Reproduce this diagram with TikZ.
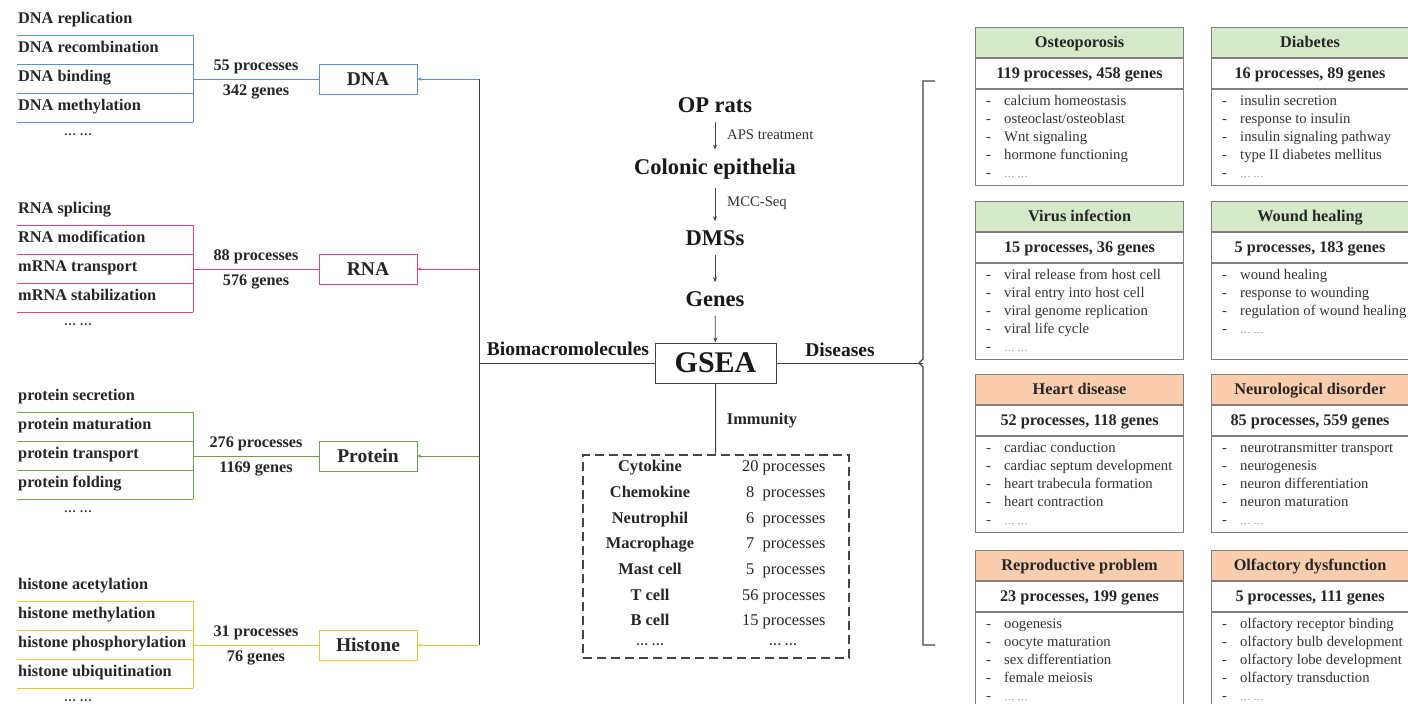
\documentclass[tikz,border=0pt]{standalone}
\usepackage{fontspec}
\setmainfont{Liberation Serif}
\usetikzlibrary{arrows.meta,calc}
\definecolor{cdna}{HTML}{5B8FD6}
\definecolor{crna}{HTML}{E2457E}
\definecolor{cpro}{HTML}{6E9F4E}
\definecolor{chis}{HTML}{F2C530}
\definecolor{hgreen}{HTML}{D6E9C8}
\definecolor{horange}{HTML}{F9CDAE}
\definecolor{bgray}{HTML}{7F7F7F}
\definecolor{tgray}{HTML}{333333}
\definecolor{lgray}{HTML}{888888}
\definecolor{dline}{HTML}{444444}

\tikzset{
  litem/.style={anchor=mid west, inner sep=0pt, font=\fontsize{16.3}{18}\selectfont\bfseries, text=black!85},
  uline/.style={line width=0.9pt},
  ldots/.style={inner sep=0pt, font=\fontsize{12.5}{12.5}\selectfont\bfseries, text=black!80},
  gbox/.style={line width=0.9pt, minimum width=98pt, minimum height=30pt, inner sep=0pt, text height=13pt, text depth=1pt, font=\fontsize{19.5}{19.5}\selectfont\bfseries, text=black!85},
  stat/.style={align=center, inner sep=0pt, font=\fontsize{16.2}{25}\selectfont\bfseries, text=black!85},
  smallarr/.style={-{Stealth[length=4pt,width=3.5pt]}},
  flow/.style={inner xsep=2pt, inner ysep=9pt, font=\fontsize{22.5}{22.5}\selectfont\bfseries, text=black!90},
  flowarr/.style={line width=0.8pt, draw=dline, -{Stealth[length=5pt,width=4pt]}},
  flowlab/.style={anchor=mid west, inner sep=0pt, font=\fontsize{14.7}{14.7}\selectfont, text=tgray},
  sidelab/.style={inner sep=0pt, font=\fontsize{19.5}{19.5}\selectfont\bfseries, text=black!90},
  gseabox/.style={draw=dline, line width=1pt, minimum width=121pt, minimum height=40pt, inner sep=0pt, font=\fontsize{30}{30}\selectfont\bfseries, text=black!90},
  immbox/.style={draw=dline, line width=1.8pt, dash pattern=on 9pt off 5pt, minimum width=266pt, minimum height=203pt, inner sep=0pt},
  imml/.style={anchor=mid, inner sep=0pt, font=\fontsize{16.4}{16.4}\selectfont\bfseries, text=black!85},
  immr/.style={anchor=mid west, inner sep=0pt, font=\fontsize{16.4}{16.4}\selectfont, text=black!85},
  dhead/.style={draw=bgray, line width=1.1pt, anchor=north west, minimum height=30pt, inner sep=0pt, text height=11pt, text depth=2pt, font=\fontsize{16.3}{16.3}\selectfont\bfseries, text=black!85},
  dstat/.style={draw=bgray, line width=1.1pt, anchor=north west, minimum height=30pt, inner sep=0pt, text height=11pt, text depth=2pt, font=\fontsize{16.2}{16.2}\selectfont\bfseries, text=black!85},
  dbody/.style={draw=bgray, line width=1.1pt, anchor=north west, minimum height=96pt, inner sep=0pt},
  ddash/.style={anchor=mid west, inner sep=0pt, font=\fontsize{14.7}{16}\selectfont, text=tgray},
  ditem/.style={anchor=mid west, inner sep=0pt, font=\fontsize{14.7}{16}\selectfont, text=tgray},
  dmore/.style={anchor=mid west, inner sep=0pt, font=\fontsize{10.5}{10.5}\selectfont, text=lgray},
}

\newcommand\biogroup[9]{%
  \foreach \k/\t in {0/{#6},1/{#7},2/{#8},3/{#9}}{%
    \node[litem] (#1i\k) at (18,{#3-14+29*\k}) {\t};
    \draw[#2, uline] (17,{#3+29*\k}) -- (193,{#3+29*\k});
  }
  \draw[#2, uline] (193,#3) -- (193,{#3+87});
  \node[ldots] (#1d) at (78,{#3+100}) {… …};
  \coordinate (#1b) at (193,{#3+44});
  \node[gbox, draw=#2] (#1box) at (368,{#3+44}) {#4};
  \node[stat] (#1s) at (256,{#3+44.5}) {#5};
  \coordinate (#1t) at (479,{#3+44});
  \draw[#2, uline] (#1b) -- (#1box);
  \draw[#2, uline, smallarr] (#1t) -- (#1box);
}

\newcommand\dbox[8]{%
  \node[dhead, fill=#5, minimum width=#4] (#1h) at (#2,#3) {#6};
  \node[dstat, minimum width=#4] (#1s) at (#1h.south west) {#7};
  \node[dbody, minimum width=#4] (#1b) at (#1s.south west) {};
  \foreach \t [count=\i from 0] in {#8}{%
    \node[ddash] (#1x\i) at ($(#1b.north west)+(11,{14+18*\i})$) {-};
    \node[ditem] (#1y\i) at ($(#1b.north west)+(29,{14+18*\i})$) {\t};
  }
  \node[ddash] (#1x4) at ($(#1b.north west)+(11,86)$) {-};
  \node[dmore] (#1y4) at ($(#1b.north west)+(29,86)$) {… …};
}

\begin{document}
\begin{tikzpicture}[x=1pt,y=-1pt]
\useasboundingbox (0,0) rectangle (1408,704);
\clip (0,0) rectangle (1408,704);
\fill[white] (0,0) rectangle (1408,704);

% ---------------- left groups
\biogroup{dna}{cdna}{35}{DNA}{55 processes\\342 genes}{DNA replication}{DNA recombination}{DNA binding}{DNA methylation}
\biogroup{rna}{crna}{225}{RNA}{88 processes\\576 genes}{RNA splicing}{RNA modification}{mRNA transport}{mRNA stabilization}
\biogroup{pro}{cpro}{412}{Protein}{276 processes\\1169 genes}{protein secretion}{protein maturation}{protein transport}{protein folding}
\biogroup{his}{chis}{601}{Histone}{31 processes\\76 genes}{histone acetylation}{histone methylation}{histone phosphorylation}{histone ubiquitination}

% trunk
\draw[dline, line width=1pt] (dnat) -- (hist);

% ---------------- centre flow
\node[flow] (op) at (715,105) {OP rats};
\node[flow] (col) at (715,169) {Colonic epithelia};
\node[flow] (dms) at (715,238) {DMSs};
\node[flow] (gen) at (715,299) {Genes};
\node[gseabox] (gsea) at (715.5,363) {GSEA};
\draw[flowarr] (op) -- (col);
\draw[flowarr] (col) -- (dms);
\draw[flowarr] (dms) -- (gen);
\draw[flowarr] (gen) -- (gsea);
\node[flowlab] (aps) at (727,137) {APS treatment};
\node[flowlab] (mcc) at (727,204) {MCC-Seq};

% biomacromolecules
\coordinate (bio) at (479,363);
\draw[dline, line width=1pt] (bio) -- (gsea);
\node[sidelab] (biol) at (568,349) {Biomacromolecules};

% diseases
\coordinate (brk) at (923,363);
\draw[dline, line width=1pt] (gsea) -- (brk);
\node[sidelab] (disl) at (840,350) {Diseases};
\draw[dline, line width=1.1pt] (935,81) -- (923,81) -- (923,359) -- (919,363) -- (923,367) -- (923,645) -- (935,645);

% immunity
\node[immbox] (imm) at (716,556.5) {};
\draw[dline, line width=1pt] (gsea) -- (imm);
\node[imml] (imml) at (762,422) {Immunity};
\foreach \nm/\y/\num/\gap in {Cytokine/469/20/742, Chemokine/495/8/746, Neutrophil/521/6/746, Macrophage/546/7/746, Mast cell/572/5/746, T cell/598/56/742, B cell/623/15/742}{%
  \node[imml] (imm\y) at (650,\y) {\nm};
  \ifnum\num<10
    \node[immr] (immp\y) at (\gap,\y) {\num\ \ processes};
  \else
    \node[immr] (immp\y) at (\gap,\y) {\num\ processes};
  \fi
}
\node[ldots] (immd1) at (650,645) {… …};
\node[ldots] (immd2) at (783,645) {… …};

% ---------------- disease boxes
\dbox{ost}{975}{27}{208}{hgreen}{Osteoporosis}{119 processes, 458 genes}{calcium homeostasis, osteoclast/osteoblast, Wnt signaling, hormone functioning}
\dbox{dia}{1211}{27}{197}{hgreen}{Diabetes}{16 processes, 89 genes}{insulin secretion, response to insulin, insulin signaling pathway, type II diabetes mellitus}
\dbox{vir}{975}{201}{208}{hgreen}{Virus infection}{15 processes, 36 genes}{viral release from host cell, viral entry into host cell, viral genome replication, viral life cycle}
\node[dhead, fill=hgreen, minimum width=197] (wouh) at (1211,201) {Wound healing};
\node[dstat, minimum width=197] (wous) at (wouh.south west) {5 processes, 183 genes};
\node[dbody, minimum width=197] (woub) at (wous.south west) {};
\foreach \t [count=\i from 0] in {wound healing, response to wounding, regulation of wound healing}{%
  \node[ddash] (woux\i) at ($(woub.north west)+(11,{14+18*\i})$) {-};
  \node[ditem] (wouy\i) at ($(woub.north west)+(29,{14+18*\i})$) {\t};
}
\node[ddash] (woux3) at ($(woub.north west)+(11,68)$) {-};
\node[dmore] (wouy3) at ($(woub.north west)+(29,68)$) {… …};
\dbox{hea}{975}{374}{208}{horange}{Heart disease}{52 processes, 118 genes}{cardiac conduction, cardiac septum development, heart trabecula formation, heart contraction}
\dbox{neu}{1211}{374}{197}{horange}{Neurological disorder}{85 processes, 559 genes}{neurotransmitter transport, neurogenesis, neuron differentiation, neuron maturation}
\dbox{rep}{975}{550}{208}{horange}{Reproductive problem}{23 processes, 199 genes}{oogenesis, oocyte maturation, sex differentiation, female meiosis}
\dbox{olf}{1211}{550}{197}{horange}{Olfactory dysfunction}{5 processes, 111 genes}{olfactory receptor binding, olfactory bulb development, olfactory lobe development, olfactory transduction}
\end{tikzpicture}
\end{document}
